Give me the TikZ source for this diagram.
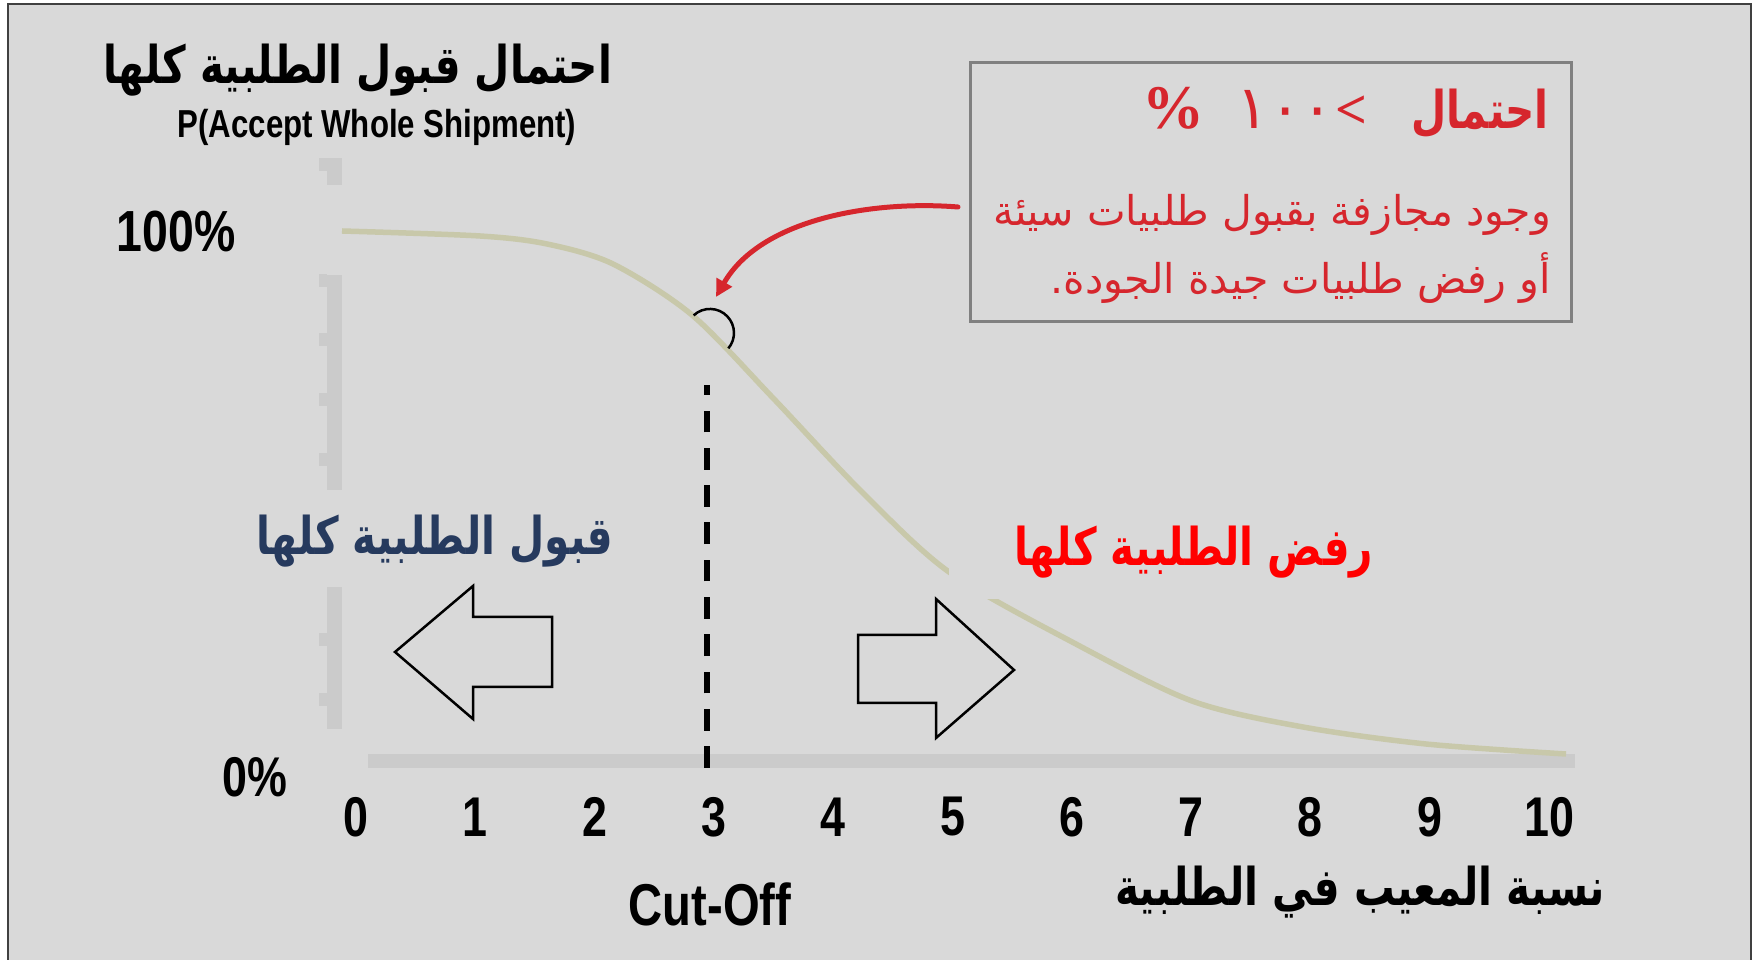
\documentclass[tikz,border=0pt]{standalone}
\usepackage{fontspec}
\setmainfont{Liberation Sans}
\newfontfamily\narrowfont[FakeStretch=0.8]{Liberation Sans}
\newfontfamily\serifsym{Liberation Serif}
\newfontfamily\arabicfont[Script=Arabic]{DejaVu Sans}
\newfontfamily\arabicnarrow[Script=Arabic,FakeStretch=0.78]{DejaVu Sans}
\TeXXeTstate=1
\usetikzlibrary{arrows.meta}

\definecolor{panelgray}{HTML}{D9D9D9}
\definecolor{axisgray}{HTML}{CBCBCB}
\definecolor{framegray}{HTML}{404040}
\definecolor{boxgray}{HTML}{808080}
\definecolor{curvekhaki}{HTML}{C8C8AA}
\definecolor{alertred}{HTML}{D6262D}
\definecolor{labelred}{HTML}{FF0000}
\definecolor{navyblue}{HTML}{263A5E}

\begin{document}
\begin{tikzpicture}[x=1pt,y=1pt,
	axislab/.style={font=\narrowfont\bfseries\fontsize{56}{60}\selectfont, inner sep=0pt},
	arablab/.style={font=\arabicnarrow\bfseries\fontsize{52}{60}\selectfont, inner sep=0pt},
	risktext/.style={anchor=east, text=alertred, inner sep=0pt, font=\arabicfont\fontsize{41}{48}\selectfont},
	blockarrow/.style={line width=2.5pt, fill=panelgray}]

	% page and frame
	\useasboundingbox (0,0) rectangle (1754,960);
	\fill[white] (0,0) rectangle (1754,960);
	\draw[line width=2pt, draw=framegray, fill=panelgray] (8,-20) rectangle (1751,956);

	% y axis, broken behind the labels
	\foreach \ya/\yb in {775/802, 470/685, 231/373}
		\draw[axisgray, line width=15pt] (334.5,\ya) -- (334.5,\yb);
	\foreach \yt in {795, 679, 620, 560, 500, 320, 260}
		\fill[axisgray] (319,\yt-6.5) rectangle (327,\yt+6.5);

	% x axis
	\draw[axisgray, line width=14pt] (368,199) -- (1575,199);
	\foreach \n in {0,...,10}
		\node[axislab] (tick\n) at (356+119.3*\n,143) {\n};

	% axis labels
	\node[arablab] (ytitle) at (358,890) {\beginR احتمال قبول الطلبية كلها\endR};
	\node[font=\narrowfont\bfseries\fontsize{39}{44}\selectfont, inner sep=0pt] (ysub) at (377,833) {P(Accept Whole Shipment)};
	\node[axislab, font=\narrowfont\bfseries\fontsize{58}{60}\selectfont] (full) at (176,728) {100\%};
	\node[axislab] (empty) at (255,183) {0\%};
	\node[axislab, font=\narrowfont\bfseries\fontsize{59}{60}\selectfont] (cutoff) at (710,56) {Cut-Off};
	\node[arablab, text=black] (xtitle) at (1360,68) {\beginR نسبة المعيب في الطلبية\endR};

	% OC curve
	\draw[curvekhaki, line width=5.5pt] plot [smooth] coordinates {(342,729) (480,724) (547,716) (613,696) (692,645) (773,562) (860,470) (949,388) (1074,317) (1192,259) (1303,233) (1426,216) (1566,206)};

	% cut-off
	\coordinate (cutbase) at (707,192);
	\coordinate (cuttop) at (707,575);
	\draw[line width=5.5pt, dash pattern=on 21.7pt off 15.6pt] (cutbase) -- (cuttop);
	\draw[line width=2.5pt] (693.6,644.6) arc[start angle=133, end angle=-40, radius=24];

	% decision arrows
	\draw[blockarrow] (395,308) -- (473,374) -- (473,343) -- (552,343) -- (552,273) -- (473,273) -- (473,241) -- cycle;
	\draw[blockarrow] (1014,290) -- (936,361) -- (936,325) -- (858,325) -- (858,257) -- (936,257) -- (936,222) -- cycle;
	\node[arablab, text=navyblue] (acceptall) at (435,419) {\beginR قبول الطلبية كلها\endR};
	\node[arablab, text=labelred, fill=panelgray, minimum width=490pt, minimum height=94pt] (rejectall) at (1194,408) {\beginR رفض الطلبية كلها\endR};

	% risk note (title set in visual order)
	\node[draw=boxgray, line width=3pt, minimum width=601pt, minimum height=259pt, inner sep=0pt] (riskbox) at (1270.5,767.5) {};
	\node[risktext, font=\arabicnarrow\bfseries\fontsize{52}{60}\selectfont] (risktitle) at (1549,847) {{\serifsym\fontsize{62}{60}\selectfont\%}\hspace{32pt}{\arabicfont\mdseries\fontsize{60}{60}\selectfont ١٠٠}\hspace{2pt}{\serifsym\fontsize{56}{60}\selectfont<}\hspace{44pt}\beginR احتمال\endR};
	\node[risktext] (riskline1) at (1551,745) {\beginR وجود مجازفة بقبول طلبيات سيئة\endR};
	\node[risktext] (riskline2) at (1551,682) {\beginR أو رفض طلبيات جيدة الجودة.\endR};
	\coordinate (riskstart) at (958,753);
	\coordinate (riskpoint) at (716,663);
	\draw[alertred, line width=5pt, line cap=round, -{Triangle[length=17pt,width=17pt]}] (riskstart) .. controls (870,760) and (760,740) .. (riskpoint);

\end{tikzpicture}
\end{document}
